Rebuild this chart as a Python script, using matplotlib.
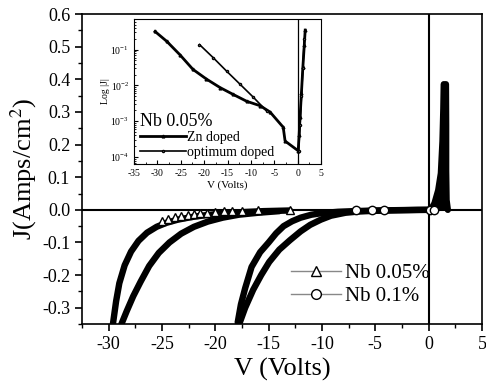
import matplotlib
matplotlib.use("Agg")
import matplotlib.pyplot as plt
from matplotlib.lines import Line2D
from matplotlib.ticker import MultipleLocator, LogLocator, NullFormatter

plt.rcParams['font.family'] = ['Liberation Serif', 'DejaVu Serif']
plt.rcParams['mathtext.fontset'] = 'stix'
plt.rcParams['axes.unicode_minus'] = False

# Nb 0.05% (triangles) - reverse bias loop, two branches
nb05_outer_v = [-29.6, -29.3, -29.0, -28.5, -27.9, -27.2, -26.4, -25.5, -24.6, -23.5, -22.2, -20.8, -19.2, -17.5, -15.5, -13.0]
nb05_outer_j = [-0.35, -0.28, -0.225, -0.17, -0.128, -0.095, -0.07, -0.052, -0.04, -0.03, -0.022, -0.016, -0.011, -0.007, -0.004, -0.002]
nb05_inner_v = [-28.8, -28.3, -27.7, -27.0, -26.2, -25.3, -24.3, -23.2, -22.0, -20.7, -19.3, -17.8, -16.0, -14.0]
nb05_inner_j = [-0.35, -0.31, -0.265, -0.22, -0.172, -0.132, -0.1, -0.073, -0.052, -0.036, -0.024, -0.015, -0.009, -0.004]
nb05_sparse_v = [-25.0, -24.4, -23.8, -23.2, -22.6, -22.0, -21.4, -20.8, -20.0, -19.2, -18.4, -17.5, -16.0, -13.0]
nb05_sparse_j = [-0.033, -0.028, -0.023, -0.019, -0.016, -0.013, -0.011, -0.009, -0.007, -0.005, -0.004, -0.003, -0.001, 0.0]

# Nb 0.1% (circles) - reverse bias loop and forward branch
nb1_outer_v = [-17.9, -17.6, -17.2, -16.6, -15.8, -15.0, -14.3, -13.6, -12.8, -12.0, -11.0, -10.0, -8.5, -7.0, -5.0, -3.0, -1.0, 0.0]
nb1_outer_j = [-0.345, -0.29, -0.24, -0.175, -0.13, -0.1, -0.072, -0.05, -0.035, -0.024, -0.015, -0.01, -0.006, -0.004, -0.002, -0.001, 0.0, 0.0]
nb1_inner_v = [-17.7, -17.2, -16.45, -15.7, -14.95, -14.0, -13.0, -12.0, -11.1, -10.1, -9.15, -7.8, -6.5, -5.0, -3.0, -1.0, 0.0]
nb1_inner_j = [-0.345, -0.3, -0.245, -0.2, -0.16, -0.122, -0.093, -0.066, -0.046, -0.03, -0.018, -0.009, -0.005, -0.003, -0.0015, -0.0005, 0.0]
nb1_fwd_a_v = [0.2, 0.55, 0.9, 1.15, 1.3, 1.38, 1.42]
nb1_fwd_a_j = [0.0, 0.02, 0.06, 0.112, 0.21, 0.31, 0.385]
nb1_fwd_b_v = [1.8, 1.68, 1.64, 1.64, 1.62]
nb1_fwd_b_j = [0.0, 0.03, 0.12, 0.26, 0.385]
nb1_sparse_v = [-6.8, -5.3, -4.2, 0.15, 0.5]
nb1_sparse_j = [-0.001, -0.001, -0.001, 0.0, 0.0]

# inset: log|J| vs V
zn_v = [-30.5, -28.0, -25.2, -22.4, -19.5, -16.6, -13.8, -10.9, -8.0, -5.9, -3.1, -2.7, 0.1, 0.3, 0.5, 0.8, 1.1, 1.4, 1.6]
zn_j = [0.32, 0.17, 0.072, 0.028, 0.015, 0.0087, 0.0056, 0.0036, 0.0027, 0.0018, 0.00068, 0.00028, 0.00015, 0.0004, 0.0013, 0.0063, 0.032, 0.13, 0.35]
opt_v = [-21.0, -18.1, -15.2, -12.3, -9.5, -6.6]
opt_j = [0.138, 0.060, 0.025, 0.0107, 0.0047, 0.0019]
opt_fwd_v = [0.2, 0.5, 0.8, 1.1, 1.4]
opt_fwd_j = [0.00015, 0.0008, 0.005, 0.03, 0.2]

fig = plt.figure(figsize=(4.86, 3.85), dpi=100)
ax = fig.add_axes([0.1687, 0.1584, 0.823, 0.805])

ax.axhline(0, color='black', lw=1.5, zorder=1)
ax.axvline(0, color='black', lw=1.5, zorder=1)

band = dict(color='black', lw=4.6, solid_capstyle='round', zorder=3)
ax.plot(nb05_outer_v, nb05_outer_j, **band)
ax.plot(nb05_inner_v, nb05_inner_j, **band)
ax.plot(nb1_outer_v, nb1_outer_j, **band)
ax.plot(nb1_inner_v, nb1_inner_j, **band)
ax.plot(nb1_fwd_a_v, nb1_fwd_a_j, **band)
ax.plot(nb1_fwd_b_v, nb1_fwd_b_j, **band)
# forward loop is solid black between its two branches
ax.fill(nb1_fwd_a_v + nb1_fwd_b_v[::-1], nb1_fwd_a_j + nb1_fwd_b_j[::-1], color='black', lw=0, zorder=3)

ax.plot(nb05_sparse_v, nb05_sparse_j, ls='none', marker='^', ms=6, mfc='white', mec='black', mew=1.0, zorder=4)
ax.plot(nb1_sparse_v, nb1_sparse_j, ls='none', marker='o', ms=6, mfc='white', mec='black', mew=1.0, zorder=4)

ax.set_xlim(-32.5, 5)
ax.set_ylim(-0.35, 0.6)
ax.set_xticks(range(-30, 6, 5))
ax.xaxis.set_minor_locator(MultipleLocator(2.5))
ax.yaxis.set_major_locator(MultipleLocator(0.1))
ax.yaxis.set_minor_locator(MultipleLocator(0.05))
ax.yaxis.set_major_formatter(plt.FuncFormatter(lambda v, p: f"{v:.1f}".replace("-0.0", "0.0")))
ax.tick_params(which='major', direction='out', length=5, width=1.2, labelsize=13)
ax.tick_params(which='minor', direction='out', length=3, width=1.0)
for s in ax.spines.values():
    s.set_linewidth(1.2)
ax.set_xlabel('V (Volts)', fontsize=19, labelpad=4)
ax.set_ylabel('J(Amps/cm$^2$)', fontsize=19, labelpad=2)

leg_handles = [
    Line2D([], [], color='#888888', lw=1.0, marker='^', ms=7, mfc='white', mec='black', mew=1.0),
    Line2D([], [], color='#888888', lw=1.0, marker='o', ms=7, mfc='white', mec='black', mew=1.0),
]
ax.legend(leg_handles, ['Nb 0.05%', 'Nb 0.1%'], loc='center left', bbox_to_anchor=(0.475, 0.127),
          frameon=False, fontsize=15, handlelength=2.4, handletextpad=0.2, labelspacing=0.15)

# inset
ins = fig.add_axes([0.2757, 0.574, 0.385, 0.377])
ins.axvline(0, color='black', lw=0.9)
ins.plot(zn_v, zn_j, color='black', lw=2.0, marker='^', ms=2, label='Zn doped')
ins.plot(opt_v, opt_j, color='black', lw=1.2, marker='o', ms=1.5, mfc='white', label='optimum doped')
ins.plot(opt_fwd_v, opt_fwd_j, color='black', lw=1.2, marker='o', ms=1.5, mfc='white')
ins.set_yscale('log')
ins.set_xlim(-35, 5)
ins.set_ylim(6.4e-5, 0.72)
ins.set_xticks(range(-35, 6, 5))
ins.xaxis.set_minor_locator(MultipleLocator(2.5))
ins.yaxis.set_major_locator(LogLocator(base=10, numticks=10))
ins.yaxis.set_minor_formatter(NullFormatter())
ins.tick_params(which='major', direction='in', length=3, width=0.8, labelsize=7)
ins.tick_params(which='minor', direction='in', length=1.5, width=0.6)
ins.set_xlabel('V (Volts)', fontsize=8, labelpad=2)
ins.set_ylabel('Log |J|', fontsize=7, labelpad=0)
ins.legend(loc='lower left', bbox_to_anchor=(-0.02, -0.03), frameon=False, fontsize=10,
           title='Nb 0.05%', title_fontsize=13, handlelength=3.3, handletextpad=0.1,
           labelspacing=0.1, alignment='left', borderaxespad=0.3)

fig.savefig('out.png', dpi=100)
